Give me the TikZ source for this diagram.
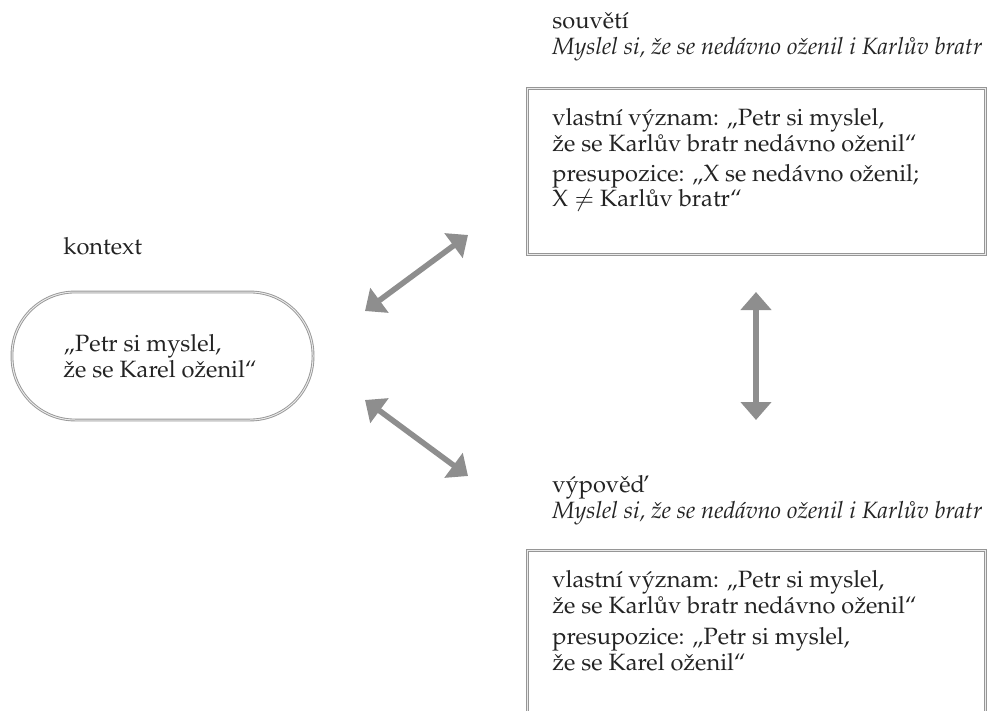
\documentclass[tikz,border=0pt]{standalone}
\usepackage[T1]{fontenc}
\usepackage{mathpazo}
\usepackage{xcolor}
\usetikzlibrary{arrows.meta,positioning}
\definecolor{boxgray}{RGB}{150,150,150}
\definecolor{arrowgray}{RGB}{142,142,142}
\definecolor{inkgray}{RGB}{35,35,35}

\begin{document}
\begin{tikzpicture}[x=0.5pt, y=-0.5pt,
    font=\fontsize{11.8}{13}\selectfont, text=inkgray,
    txt/.style={anchor=base west, inner sep=0pt, align=left},
    frame/.style={draw=boxgray, double=white!80!boxgray, double distance=0.5pt,
        line width=0.45pt, anchor=north west, inner sep=0pt},
    link/.style={draw=arrowgray, line width=2.8pt,
        {Triangle[length=9pt,width=15pt]}-{Triangle[length=9pt,width=15pt]}}]
                \useasboundingbox (0,0) rectangle (990,711);

                % souveti (base = last line)
                \node[txt] (sv) at (552,55) {souv\v{e}t\'{\i}\\
                    \itshape Myslel si, \v{z}e se ned\'avno o\v{z}enil i Karl\r{u}v bratr};
                \node[frame, minimum width=229pt, minimum height=83pt] (S) at (527,88) {};
                \node[txt] (S1) at (552,152) {vlastn\'{\i} v\'yznam: \quotedblbase Petr si myslel,\\
                    \v{z}e se Karl\r{u}v bratr ned\'avno o\v{z}enil\textquotedblleft};
                \node[txt] (S2) at (552,207) {presupozice: \quotedblbase X se ned\'avno o\v{z}enil;\\
                    X $\neq$ Karl\r{u}v bratr\textquotedblleft};

                % kontext
                \node[txt] (kt) at (63,255) {kontext};
                \node[frame, anchor=center, rounded corners=31.5pt,
                    minimum width=150.5pt, minimum height=64pt] (K) at (162.5,356) {};
                \node[txt] (K1) at (63,377) {\quotedblbase Petr si myslel,\\
                    \v{z}e se Karel o\v{z}enil\textquotedblleft};

                % vypoved
                \node[txt] (vp) at (552,518) {v\'ypov\v{e}\v{d}\\
                    \itshape Myslel si, \v{z}e se ned\'avno o\v{z}enil i Karl\r{u}v bratr};
                \node[frame, minimum width=229pt, minimum height=100pt] (V) at (527,550) {};
                \node[txt] (V1) at (552,613) {vlastn\'{\i} v\'yznam: \quotedblbase Petr si myslel,\\
                    \v{z}e se Karl\r{u}v bratr ned\'avno o\v{z}enil\textquotedblleft};
                \node[txt] (V2) at (552,670) {presupozice: \quotedblbase Petr si myslel,\\
                    \v{z}e se Karel o\v{z}enil\textquotedblleft};

                % arrow ends
                \coordinate (a1) at (365,311);
                \coordinate (a2) at (468,235);
                \coordinate (b1) at (365,400);
                \coordinate (b2) at (468,476);
                \coordinate (c1) at (756,292);
                \coordinate (c2) at (756,420);

                \draw[link] (a1) -- (a2);
                \draw[link] (b1) -- (b2);
                \draw[link] (c1) -- (c2);
            \end{tikzpicture}
\end{document}
